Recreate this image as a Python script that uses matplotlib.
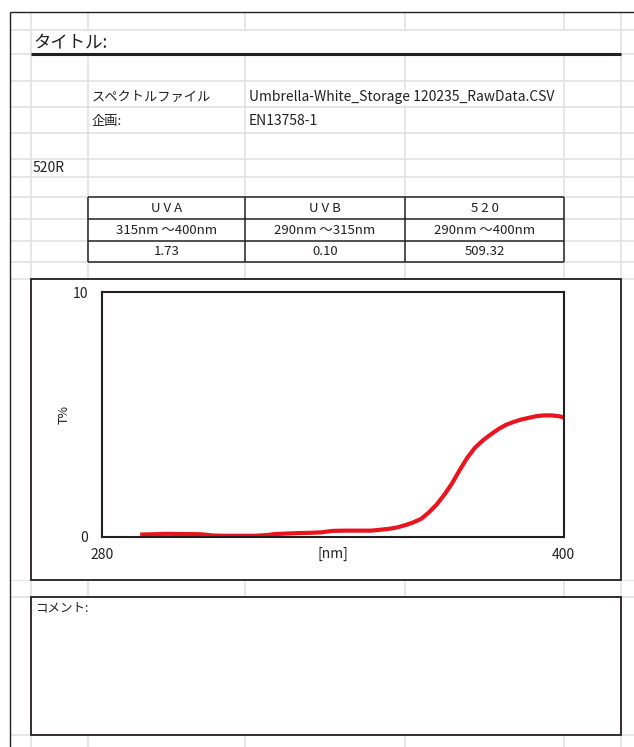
import numpy as np
import matplotlib
matplotlib.use("Agg")
import matplotlib.pyplot as plt
from matplotlib.patches import Rectangle

plt.rcParams['font.family'] = ['Noto Sans CJK JP', 'DejaVu Sans']

# report header
title_label = "タイトル:"
file_label = "スペクトルファイル"
file_name = "Umbrella-White_Storage 120235_RawData.CSV"
plan_label = "企画:"
plan_name = "EN13758-1"
sample_name = "520R"
comment_label = "コメント:"

# summary table
band_names = ["UVA", "UVB", "520"]
band_ranges = ["315nm ～400nm", "290nm ～315nm", "290nm ～400nm"]
band_values = [1.73, 0.10, 509.32]

# transmittance spectrum
wavelength = [290, 293, 297, 300, 303, 306, 309, 312, 316, 320, 323, 325, 328,
              331, 334, 337, 340, 343, 346, 350, 352, 355, 357, 359, 361, 363,
              365, 367, 369, 371, 373, 375, 377, 379, 381, 383, 385, 387, 389,
              391, 393, 395, 397, 399, 400]
transmittance = [0.10, 0.11, 0.13, 0.12, 0.12, 0.11, 0.06, 0.05, 0.05, 0.05,
                 0.08, 0.12, 0.14, 0.16, 0.17, 0.19, 0.25, 0.26, 0.26, 0.26,
                 0.29, 0.34, 0.40, 0.49, 0.60, 0.74, 1.00, 1.32, 1.72, 2.18,
                 2.73, 3.24, 3.65, 3.94, 4.18, 4.40, 4.58, 4.70, 4.80, 4.87,
                 4.94, 4.97, 4.97, 4.93, 4.89]

W, H = 634, 747
dark = "#231f20"
grid = "#e2e2e2"

fig = plt.figure(figsize=(W / 100, H / 100), dpi=100)
fig.patch.set_facecolor("white")

# sheet drawn in pixel coordinates
sheet = fig.add_axes([0, 0, 1, 1])
sheet.set_xlim(0, W)
sheet.set_ylim(H, 0)
sheet.axis("off")

rows = [30, 54, 81, 107, 133, 159, 177, 197, 219, 241, 262, 279, 580, 597, 735]
cols = [31, 88, 245, 405, 564, 621]
sheet.hlines(rows, 10, W, color=grid, lw=1.2, zorder=1)
sheet.vlines(cols, 12, H, color=grid, lw=1.2, zorder=1)
# no gridlines in the chart band
sheet.add_patch(Rectangle((10.8, 280), 623, 299.5, fc="white", ec="none", zorder=1.5))

# outer border
sheet.hlines(12, 10, W, color=dark, lw=1.0, zorder=3)
sheet.vlines(10, 12, H, color=dark, lw=1.0, zorder=3)

# title row (merged)
sheet.add_patch(Rectangle((31.8, 30.8), 588.5, 22.5, fc="white", ec="none", zorder=2))
sheet.text(33, 43, title_label, fontsize=12.5, va="center", ha="left", color=dark, zorder=4)
sheet.hlines(54, 31, 621, color=dark, lw=2.2, zorder=3)

sheet.text(92, 97, file_label, fontsize=9.5, va="center", ha="left", color=dark, zorder=4)
sheet.text(249, 97, file_name, fontsize=10, va="center", ha="left", color=dark, zorder=4,
           bbox=dict(fc="white", ec="none", pad=0.5))
sheet.text(92, 121, plan_label, fontsize=9.5, va="center", ha="left", color=dark, zorder=4)
sheet.text(249, 121, plan_name, fontsize=10, va="center", ha="left", color=dark, zorder=4)
sheet.text(33, 168, sample_name, fontsize=10, va="center", ha="left", color=dark, zorder=4)

# summary table
tx = [88, 245, 405, 564]
ty = [197, 219, 241, 262]
sheet.add_patch(Rectangle((tx[0], ty[0]), tx[-1] - tx[0], ty[-1] - ty[0], fc="white", ec="none", zorder=2))
sheet.hlines(ty, tx[0], tx[-1], color=dark, lw=1.1, zorder=3)
sheet.vlines(tx, ty[0], ty[-1], color=dark, lw=1.1, zorder=3)
for i in range(3):
    cx = (tx[i] + tx[i + 1]) / 2
    sheet.text(cx, (ty[0] + ty[1]) / 2, " ".join(band_names[i]), fontsize=9.5,
               ha="center", va="center", color=dark, zorder=4)
    sheet.text(cx, (ty[1] + ty[2]) / 2, band_ranges[i], fontsize=9.5,
               ha="center", va="center", color=dark, zorder=4)
    sheet.text(cx, (ty[2] + ty[3]) / 2, f"{band_values[i]:.2f}", fontsize=9.5,
               ha="center", va="center", color=dark, zorder=4)

# chart frame and comment box
sheet.add_patch(Rectangle((31, 279), 590, 301, fc="white", ec=dark, lw=1.3, zorder=2))
sheet.add_patch(Rectangle((31, 597), 590, 138, fc="white", ec=dark, lw=1.3, zorder=2))
sheet.text(35, 608, comment_label, fontsize=9, va="center", ha="left", color=dark, zorder=4)
sheet.text(64, 415, "T%", fontsize=9, rotation=90, ha="center", va="center", color=dark, zorder=4)

# spectrum plot
x0, x1, y0, y1 = 101.7, 563.5, 292.3, 537
ax = fig.add_axes([x0 / W, (H - y1) / H, (x1 - x0) / W, (y1 - y0) / H])
ax.plot(wavelength, transmittance, color="#e8151f", lw=3, solid_capstyle="butt")
ax.set_xlim(280, 400)
ax.set_ylim(0, 10)
ax.set_xticks([280, 400])
ax.set_yticks([0, 10])
ax.tick_params(length=0, labelsize=10, colors=dark)
ax.tick_params(axis="y", pad=10)
ax.tick_params(axis="x", pad=8)
for s in ax.spines.values():
    s.set_color(dark)
    s.set_linewidth(1.5)
ax.text(0.5, -0.04, "[nm]", transform=ax.transAxes, ha="center", va="top",
        fontsize=10, color=dark)

fig.savefig("out.png", dpi=100)
